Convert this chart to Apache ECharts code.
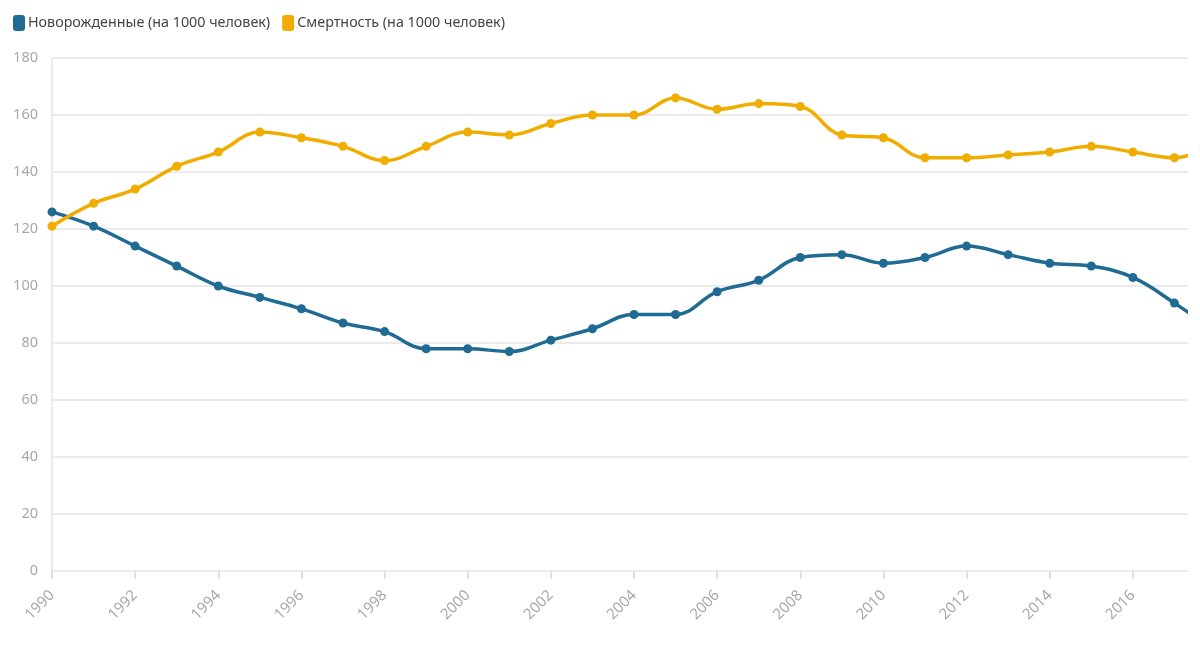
<!DOCTYPE html>
<html>
<head>
<meta charset="utf-8">
<script src="https://cdn.jsdelivr.net/npm/echarts@6/dist/echarts.min.js"></script>
<style>
html,body{margin:0;padding:0;background:#fff;overflow:hidden;}
#wrap{width:1188px;height:650px;overflow:hidden;position:relative;}
#chart{width:1256px;height:650px;}
</style>
</head>
<body>
<div id="wrap"><div id="chart"></div></div>
<script>
const years = ['1990','1991','1992','1993','1994','1995','1996','1997','1998','1999','2000','2001','2002','2003','2004','2005','2006','2007','2008','2009','2010','2011','2012','2013','2014','2015','2016','2017','2018'];
const births = [126,121,114,107,100,96,92,87,84,78,78,77,81,85,90,90,98,102,110,111,108,110,114,111,108,107,103,94,84];
const deaths = [121,129,134,142,147,154,152,149,144,149,154,153,157,160,160,166,162,164,163,153,152,145,145,146,147,149,147,145,150];
const seriesNames = ['Новорожденные (на 1000 человек)','Смертность (на 1000 человек)'];
const colors = ['#1f6b94','#f0ad00'];

const chart = echarts.init(document.getElementById('chart'));
chart.setOption({
  animation:false,
  textStyle:{fontFamily:'Noto Sans'},
  color:colors,
  legend:{
    left:8, top:10, itemWidth:12, itemHeight:16, itemGap:12,
    icon:'roundRect',
    textStyle:{color:'#444', fontSize:14.3, fontFamily:'Noto Sans', padding:[0,0,0,-2]},
    data:seriesNames
  },
  grid:{left:52, top:58, right:40, bottom:79},
  xAxis:{
    type:'category', data:years, boundaryGap:false,
    axisLine:{lineStyle:{color:'#ebebeb', width:2}},
    axisTick:{show:true, alignWithLabel:true, interval:1, length:8, lineStyle:{color:'#e0e0e0', width:2}},
    axisLabel:{show:true, interval:1, rotate:45, color:'#a8a8a8', fontSize:15, margin:22},
    splitLine:{show:false}
  },
  yAxis:{
    type:'value', min:0, max:180, interval:20,
    axisLine:{show:true, lineStyle:{color:'#ebebeb', width:2}},
    axisTick:{show:false},
    axisLabel:{color:'#a8a8a8', fontSize:14.5, margin:14},
    splitLine:{lineStyle:{color:'#ebebeb', width:2}}
  },
  series:[
    {name:seriesNames[0], type:'line', data:births, smooth:0.4, symbol:'circle', symbolSize:9,
     lineStyle:{width:3.5}, itemStyle:{color:colors[0]}},
    {name:seriesNames[1], type:'line', data:deaths, smooth:0.4, symbol:'circle', symbolSize:9,
     lineStyle:{width:3.5}, itemStyle:{color:colors[1]}}
  ]
});
</script>
</body>
</html>
